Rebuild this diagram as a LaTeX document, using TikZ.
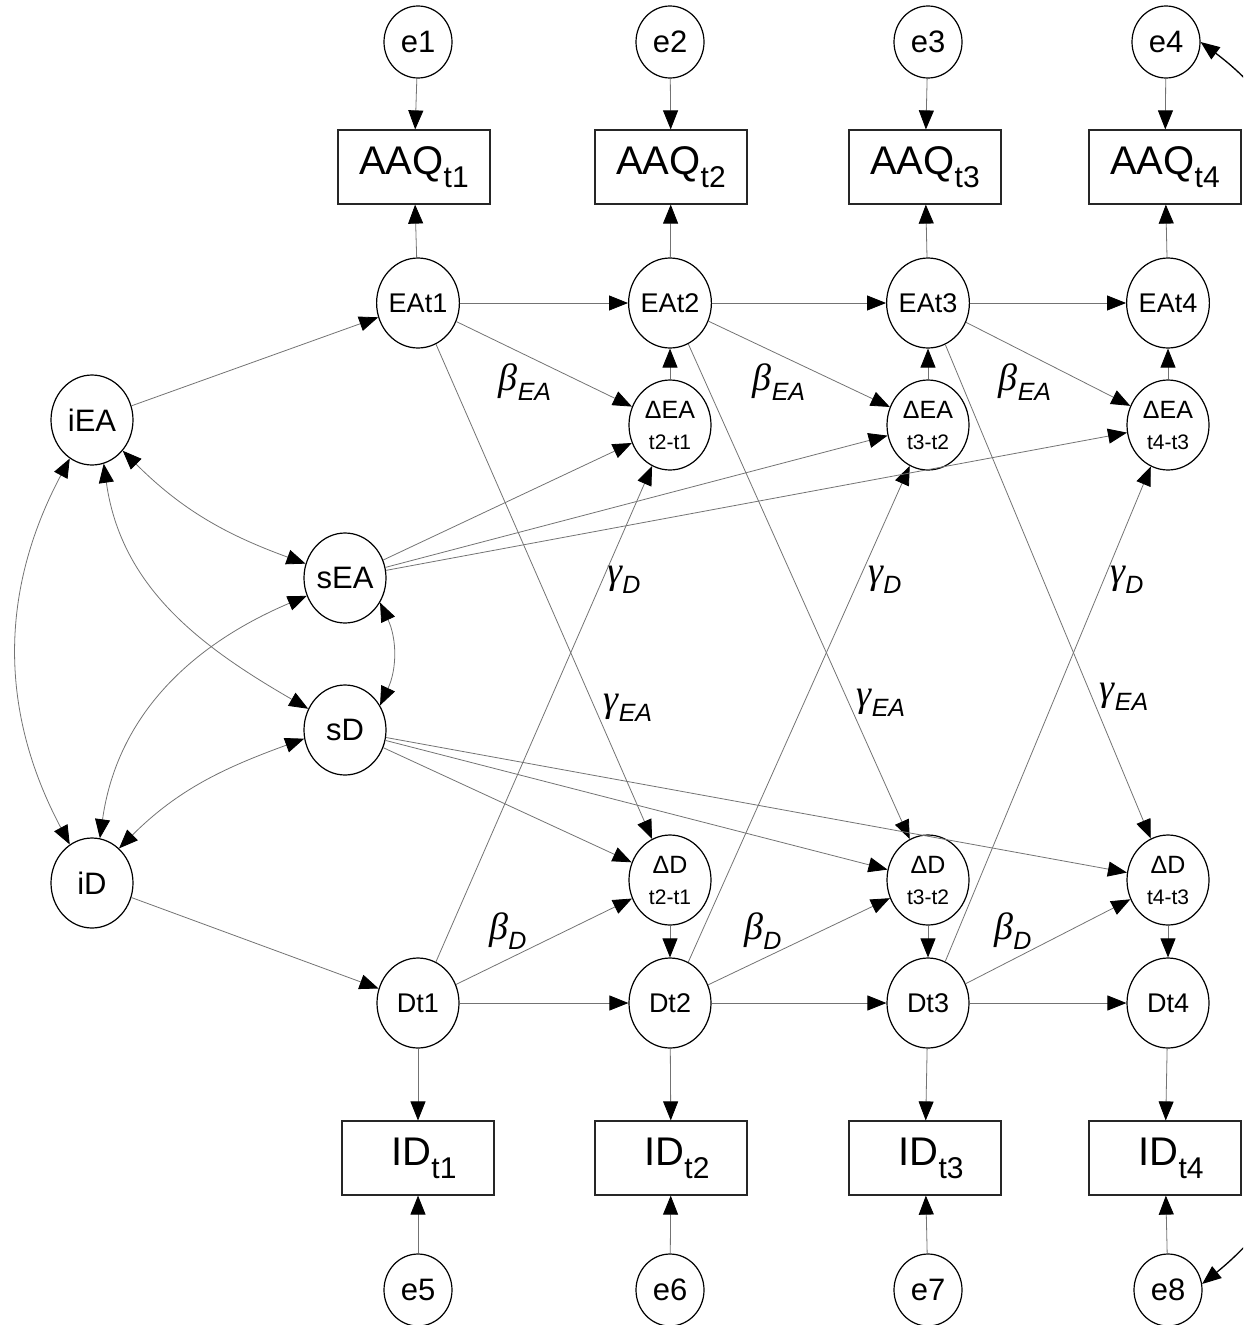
\documentclass[tikz,border=0pt]{standalone}
\usepackage{fontspec}
\setmainfont{Liberation Sans}
\newfontfamily\grk{Liberation Serif}
\usetikzlibrary{arrows.meta,shapes.geometric}
\newcommand\sbx[1]{\raisebox{-13pt}{\fontsize{30}{30}\selectfont #1}}
\newcommand\lsb[1]{\raisebox{-10pt}{\fontsize{25}{25}\selectfont\itshape #1}}
\newcommand\gk[1]{{\grk\itshape #1}}
\begin{document}
\begin{tikzpicture}[x=1pt,y=1pt,
  lat/.style={draw=black, line width=1.2pt, ellipse, minimum width=82pt, minimum height=90pt, inner sep=0pt, font=\fontsize{27}{27}\selectfont},
  latb/.style={lat, font=\fontsize{31}{31}\selectfont},
  dlt/.style={lat, align=center, font=\fontsize{25}{31}\selectfont},
  err/.style={draw=black, line width=1.2pt, ellipse, minimum width=68pt, minimum height=72pt, inner sep=0pt, font=\fontsize{31}{31}\selectfont},
  obs/.style={draw=black!85, line width=1.2pt, rectangle, minimum width=152pt, minimum height=74pt, inner sep=0pt, font=\fontsize{40}{40}\selectfont},
  arr/.style={draw=black!55, line width=0.8pt, -{Triangle[length=19pt,width=15pt,color=black]}},
  cov/.style={draw=black!55, line width=0.8pt, {Triangle[length=19pt,width=15pt,color=black]}-{Triangle[length=19pt,width=15pt,color=black]}},
  cov2/.style={draw=black, line width=1.3pt, {Triangle[length=19pt,width=15pt,color=black]}-{Triangle[length=19pt,width=15pt,color=black]}},
  lbl/.style={inner sep=0pt, font=\fontsize{38}{38}\selectfont}
]
\useasboundingbox (0,0) rectangle (1243,-1325);
% error terms top
\node[err] (e1) at (418,-42) {e1};
\node[err] (e2) at (670,-42) {e2};
\node[err] (e3) at (928,-42) {e3};
\node[err] (e4) at (1166,-42) {e4};
% AAQ boxes
\node[obs] (A1) at (414,-167) {AAQ\sbx{t1}};
\node[obs] (A2) at (671,-167) {AAQ\sbx{t2}};
\node[obs] (A3) at (925,-167) {AAQ\sbx{t3}};
\node[obs] (A4) at (1165,-167) {AAQ\sbx{t4}};
% EA row
\node[lat] (EA1) at (418,-303) {EAt1};
\node[lat] (EA2) at (670,-303) {EAt2};
\node[lat] (EA3) at (928,-303) {EAt3};
\node[lat] (EA4) at (1168,-303) {EAt4};
% delta EA
\node[dlt] (dEA1) at (670,-425) {ΔEA\\{\fontsize{21}{31}\selectfont t2-t1}};
\node[dlt] (dEA2) at (928,-425) {ΔEA\\{\fontsize{21}{31}\selectfont t3-t2}};
\node[dlt] (dEA3) at (1168,-425) {ΔEA\\{\fontsize{21}{31}\selectfont t4-t3}};
% intercepts / slopes
\node[latb] (iEA) at (92,-420) {iEA};
\node[latb] (sEA) at (345,-578) {sEA};
\node[latb] (sD) at (345,-730) {sD};
\node[latb] (iD) at (92,-883) {iD};
% delta D
\node[dlt] (dD1) at (670,-880) {ΔD\\{\fontsize{21}{31}\selectfont t2-t1}};
\node[dlt] (dD2) at (928,-880) {ΔD\\{\fontsize{21}{31}\selectfont t3-t2}};
\node[dlt] (dD3) at (1168,-880) {ΔD\\{\fontsize{21}{31}\selectfont t4-t3}};
% D row
\node[lat] (D1) at (418,-1003) {Dt1};
\node[lat] (D2) at (670,-1003) {Dt2};
\node[lat] (D3) at (928,-1003) {Dt3};
\node[lat] (D4) at (1168,-1003) {Dt4};
% ID boxes
\node[obs] (I1) at (418,-1158) {\hspace*{12pt}ID\sbx{t1}};
\node[obs] (I2) at (671,-1158) {\hspace*{12pt}ID\sbx{t2}};
\node[obs] (I3) at (925,-1158) {\hspace*{12pt}ID\sbx{t3}};
\node[obs] (I4) at (1165,-1158) {\hspace*{12pt}ID\sbx{t4}};
% error terms bottom
\node[err] (e5) at (418,-1290) {e5};
\node[err] (e6) at (670,-1290) {e6};
\node[err] (e7) at (928,-1290) {e7};
\node[err] (e8) at (1168,-1290) {e8};
% labels
\node[lbl] (bEA1) at (525,-382) {\gk{β}\lsb{EA}};
\node[lbl] (bEA2) at (779,-382) {\gk{β}\lsb{EA}};
\node[lbl] (bEA3) at (1025,-382) {\gk{β}\lsb{EA}};
\node[lbl] (gD1) at (624,-580) {\gk{γ}\lsb{D}};
\node[lbl] (gD2) at (885,-580) {\gk{γ}\lsb{D}};
\node[lbl] (gD3) at (1127,-580) {\gk{γ}\lsb{D}};
\node[lbl] (gEA1) at (628,-708) {\gk{γ}\lsb{EA}};
\node[lbl] (gEA2) at (881,-703) {\gk{γ}\lsb{EA}};
\node[lbl] (gEA3) at (1124,-697) {\gk{γ}\lsb{EA}};
\node[lbl] (bD1) at (508,-931) {\gk{β}\lsb{D}};
\node[lbl] (bD2) at (763,-931) {\gk{β}\lsb{D}};
\node[lbl] (bD3) at (1013,-931) {\gk{β}\lsb{D}};
% measurement paths
\foreach \i in {1,2,3,4}{
  \draw[arr] (e\i) -- (A\i);
  \draw[arr] (EA\i) -- (A\i);
  \draw[arr] (D\i) -- (I\i);
}
\draw[arr] (e5) -- (I1);
\draw[arr] (e6) -- (I2);
\draw[arr] (e7) -- (I3);
\draw[arr] (e8) -- (I4);
% autoregressive
\draw[arr] (EA1) -- (EA2);
\draw[arr] (EA2) -- (EA3);
\draw[arr] (EA3) -- (EA4);
\draw[arr] (D1) -- (D2);
\draw[arr] (D2) -- (D3);
\draw[arr] (D3) -- (D4);
% change to level
\draw[arr] (dEA1) -- (EA2);
\draw[arr] (dEA2) -- (EA3);
\draw[arr] (dEA3) -- (EA4);
\draw[arr] (dD1) -- (D2);
\draw[arr] (dD2) -- (D3);
\draw[arr] (dD3) -- (D4);
% beta
\draw[arr] (EA1) -- (dEA1);
\draw[arr] (EA2) -- (dEA2);
\draw[arr] (EA3) -- (dEA3);
\draw[arr] (D1) -- (dD1);
\draw[arr] (D2) -- (dD2);
\draw[arr] (D3) -- (dD3);
% gamma
\draw[arr] (EA1) -- (dD1);
\draw[arr] (EA2) -- (dD2);
\draw[arr] (EA3) -- (dD3);
\draw[arr] (D1) -- (dEA1);
\draw[arr] (D2) -- (dEA2);
\draw[arr] (D3) -- (dEA3);
% slopes
\draw[arr] (sEA) -- (dEA1);
\draw[arr] (sEA) -- (dEA2);
\draw[arr] (sEA) -- (dEA3);
\draw[arr] (sD) -- (dD1);
\draw[arr] (sD) -- (dD2);
\draw[arr] (sD) -- (dD3);
% intercepts
\draw[arr] (iEA) -- (EA1);
\draw[arr] (iD) -- (D1);
% covariances
\draw[cov] (iEA.240) to[out=242,in=118] (iD.120);
\draw[cov] (iEA.-75) to[out=-82,in=150] (sD.150);
\draw[cov] (iEA.-45) to[out=-45,in=160] (sEA.160);
\draw[cov] (sEA.205) to[out=203,in=82] (iD.80);
\draw[cov] (sD.192) to[out=200,in=45] (iD.52);
\draw[cov] (sEA.-35) to[out=-65,in=65] (sD.35);
\begin{scope}
\clip (0,0) rectangle (1243,-1325);
\draw[cov2] (e4.0) .. controls (1480,-250) and (1480,-1060) .. (e8.10);
\end{scope}
\end{tikzpicture}
\end{document}
